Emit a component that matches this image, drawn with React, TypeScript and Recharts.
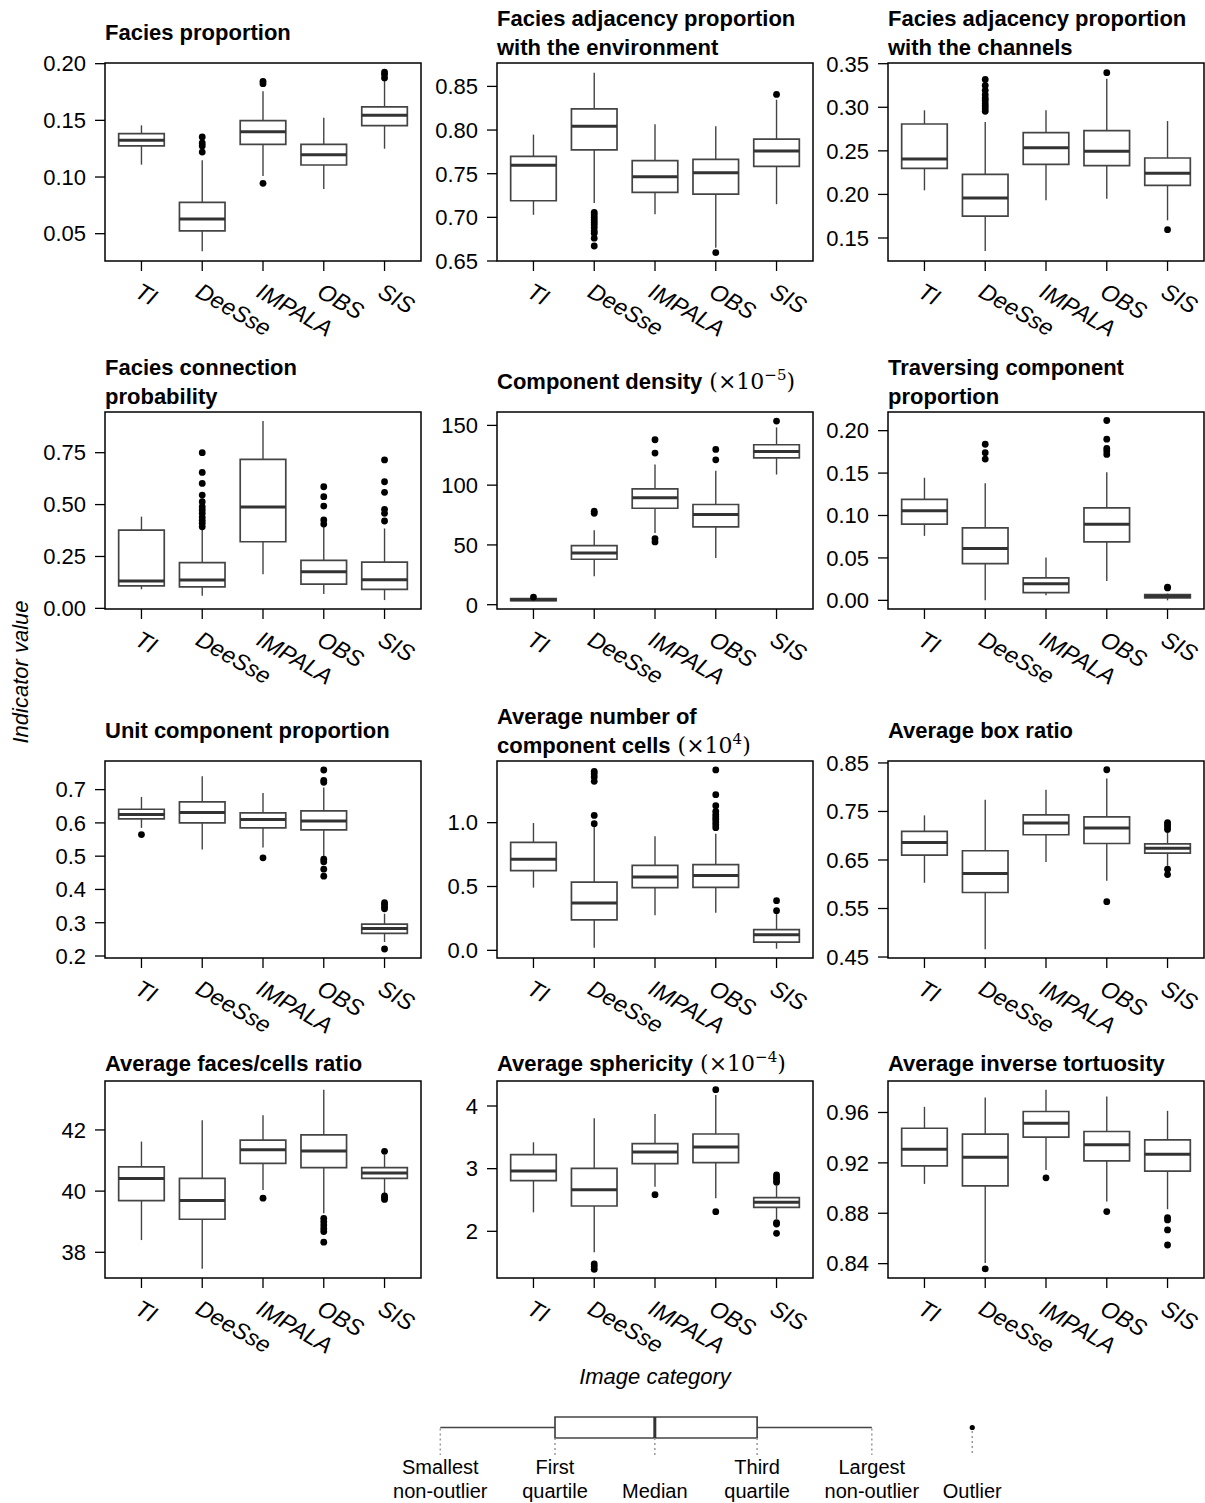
import React from "react";
import {
  ScatterChart,
  Scatter,
  XAxis,
  YAxis,
  ReferenceArea,
  ReferenceLine,
} from "recharts";

const SANS = "'Liberation Sans', Arial, sans-serif";
const SERIF = "'DejaVu Serif', serif";

const categories = ["TI", "DeeSse", "IMPALA", "OBS", "SIS"];

// every row: [low whisker, Q1, median, Q3, high whisker]
const faciesProportion = [
  [0.1109, 0.1274, 0.1324, 0.1382, 0.1456],
  [0.0344, 0.0524, 0.0629, 0.0776, 0.1147],
  [0.1009, 0.1288, 0.14, 0.1497, 0.1756],
  [0.0894, 0.1106, 0.1197, 0.1288, 0.1524],
  [0.125, 0.1453, 0.1544, 0.1618, 0.1853],
];
const faciesProportionOut = [
  [],
  [0.1353, 0.13, 0.1274, 0.122],
  [0.1844, 0.1824, 0.0944],
  [],
  [0.1926, 0.1906, 0.1874],
];

const adjEnvironment = [
  [0.7029, 0.719, 0.7596, 0.7699, 0.7948],
  [0.7163, 0.7772, 0.8044, 0.8243, 0.8657],
  [0.7036, 0.7285, 0.7466, 0.765, 0.8067],
  [0.6653, 0.7266, 0.7511, 0.7665, 0.8044],
  [0.7151, 0.7584, 0.7761, 0.7895, 0.8347],
];
const adjEnvironmentOut = [
  [],
  [0.7056, 0.7029, 0.6998, 0.6971, 0.6941, 0.6914, 0.6883, 0.6845, 0.6818, 0.6761, 0.6672],
  [],
  [0.6596],
  [0.8408],
];

const adjChannels = [
  [0.2047, 0.2299, 0.2406, 0.2808, 0.2965],
  [0.1351, 0.1752, 0.1959, 0.223, 0.2831],
  [0.1932, 0.2345, 0.2536, 0.2708, 0.2965],
  [0.1951, 0.233, 0.2494, 0.2731, 0.3328],
  [0.1703, 0.2104, 0.2242, 0.2418, 0.2842],
];
const adjChannelsOut = [
  [],
  [0.332, 0.3251, 0.3194, 0.3144, 0.3106, 0.3079, 0.3041, 0.3014, 0.2984, 0.2953],
  [],
  [0.3397],
  [0.1596],
];

const connectionProb = [
  [0.092, 0.108, 0.132, 0.377, 0.442],
  [0.061, 0.104, 0.137, 0.22, 0.385],
  [0.164, 0.321, 0.488, 0.718, 0.903],
  [0.069, 0.117, 0.177, 0.231, 0.4],
  [0.04, 0.092, 0.138, 0.223, 0.385],
];
const connectionProbOut = [
  [],
  [0.75, 0.655, 0.602, 0.546, 0.514, 0.49, 0.474, 0.458, 0.44, 0.425, 0.41, 0.393],
  [],
  [0.586, 0.538, 0.493, 0.426, 0.406],
  [0.715, 0.61, 0.559, 0.477, 0.458, 0.421],
];

const componentDensity = [
  [3.0, 3.4, 4.2, 5.0, 5.8],
  [23.7, 38, 43.3, 49.4, 62.3],
  [60, 80.7, 89.4, 96.9, 117.3],
  [39.1, 65.1, 75.4, 83.8, 112],
  [108.9, 122.9, 128.2, 133.8, 148.3],
];
const componentDensityOut = [
  [6.4],
  [78.2, 76.5],
  [138, 126.8, 55.3, 52.5],
  [129.9, 121.2],
  [153.6],
];

const traversing = [
  [0.076, 0.0898, 0.1055, 0.119, 0.1445],
  [0.0, 0.0433, 0.061, 0.0854, 0.138],
  [0.006, 0.009, 0.0197, 0.0264, 0.0504],
  [0.0228, 0.069, 0.0898, 0.109, 0.151],
  [0.0, 0.003, 0.0047, 0.0067, 0.008],
];
const traversingOut = [
  [],
  [0.184, 0.174, 0.1665],
  [],
  [0.212, 0.19, 0.179, 0.176, 0.172],
  [0.0146, 0.0157],
];

const unitComponent = [
  [0.585, 0.612, 0.625, 0.641, 0.678],
  [0.52, 0.6, 0.631, 0.663, 0.74],
  [0.526, 0.585, 0.61, 0.63, 0.69],
  [0.498, 0.579, 0.606, 0.636, 0.706],
  [0.242, 0.268, 0.283, 0.296, 0.327],
];
const unitComponentOut = [
  [0.565],
  [],
  [0.495],
  [0.759, 0.728, 0.722, 0.491, 0.483, 0.461, 0.44],
  [0.36, 0.355, 0.347, 0.342, 0.221],
];

const componentCells = [
  [0.491, 0.624, 0.713, 0.846, 0.997],
  [0.021, 0.238, 0.371, 0.535, 0.966],
  [0.274, 0.491, 0.574, 0.666, 0.893],
  [0.295, 0.493, 0.587, 0.671, 0.914],
  [0.013, 0.065, 0.123, 0.162, 0.298],
];
const componentCellsOut = [
  [],
  [1.402, 1.384, 1.358, 1.324, 1.057, 0.992],
  [],
  [1.413, 1.219, 1.133, 1.089, 1.063, 1.044, 1.026, 1.005, 0.984, 0.961],
  [0.389, 0.311],
];

const boxRatio = [
  [0.603, 0.66, 0.686, 0.709, 0.742],
  [0.466, 0.583, 0.622, 0.669, 0.774],
  [0.646, 0.702, 0.726, 0.743, 0.795],
  [0.607, 0.684, 0.716, 0.739, 0.818],
  [0.638, 0.664, 0.674, 0.683, 0.708],
];
const boxRatioOut = [
  [],
  [],
  [],
  [0.836, 0.564],
  [0.727, 0.723, 0.718, 0.713, 0.631, 0.62],
];

const facesCells = [
  [38.4, 39.69, 40.41, 40.79, 41.62],
  [37.46, 39.08, 39.69, 40.42, 42.32],
  [40.04, 40.91, 41.35, 41.67, 42.48],
  [39.28, 40.77, 41.31, 41.84, 43.31],
  [39.93, 40.42, 40.59, 40.77, 41.18],
];
const facesCellsOut = [
  [],
  [],
  [39.77],
  [39.11, 39.0, 38.89, 38.78, 38.68, 38.33],
  [41.3, 39.84, 39.79, 39.73],
];

const sphericity = [
  [2.303, 2.809, 2.963, 3.223, 3.42],
  [1.665, 2.404, 2.665, 3.005, 3.803],
  [2.713, 3.08, 3.266, 3.399, 3.872],
  [2.527, 3.096, 3.346, 3.553, 4.176],
  [2.197, 2.383, 2.463, 2.537, 2.723],
];
const sphericityOut = [
  [],
  [1.479, 1.436, 1.394],
  [2.585],
  [4.261, 2.314],
  [2.899, 2.862, 2.819, 2.782, 2.138, 2.117, 1.968],
];

const inverseTortuosity = [
  [0.9033, 0.9176, 0.9309, 0.9475, 0.9645],
  [0.8405, 0.9017, 0.9245, 0.9428, 0.9719],
  [0.9144, 0.9404, 0.9515, 0.9608, 0.978],
  [0.8893, 0.9216, 0.9343, 0.9449, 0.9727],
  [0.8832, 0.9134, 0.9269, 0.9383, 0.9613],
];
const inverseTortuosityOut = [
  [],
  [0.8358],
  [0.9081],
  [0.8813],
  [0.8766, 0.8747, 0.8668, 0.8548],
];

// legend key: smallest, Q1, median, Q3, largest, then the outlier
const legendStats = [0.65, 2.5, 4.11, 5.76, 7.61];
const legendOutlier = [9.23];
const legendLabels = [
  ["Smallest", "non-outlier"],
  ["First", "quartile"],
  ["Median"],
  ["Third", "quartile"],
  ["Largest", "non-outlier"],
  ["Outlier"],
];

const panels = [
  { lines: ["Facies proportion"], stats: faciesProportion, out: faciesProportionOut, domain: [0.0259, 0.2006], ticks: [0.05, 0.1, 0.15, 0.2], dec: 2 },
  { lines: ["Facies adjacency proportion", "with the environment"], stats: adjEnvironment, out: adjEnvironmentOut, domain: [0.65, 0.8768], ticks: [0.65, 0.7, 0.75, 0.8, 0.85], dec: 2 },
  { lines: ["Facies adjacency proportion", "with the channels"], stats: adjChannels, out: adjChannelsOut, domain: [0.1236, 0.3508], ticks: [0.15, 0.2, 0.25, 0.3, 0.35], dec: 2 },
  { lines: ["Facies connection", "probability"], stats: connectionProb, out: connectionProbOut, domain: [-0.003, 0.946], ticks: [0, 0.25, 0.5, 0.75], dec: 2 },
  { lines: ["Component density"], exp: "\u22125", stats: componentDensity, out: componentDensityOut, domain: [-3.6, 161.2], ticks: [0, 50, 100, 150], dec: 0 },
  { lines: ["Traversing component", "proportion"], stats: traversing, out: traversingOut, domain: [-0.0102, 0.222], ticks: [0, 0.05, 0.1, 0.15, 0.2], dec: 2 },
  { lines: ["Unit component proportion"], stats: unitComponent, out: unitComponentOut, domain: [0.194, 0.786], ticks: [0.2, 0.3, 0.4, 0.5, 0.6, 0.7], dec: 1 },
  { lines: ["Average number of", "component cells"], exp: "4", stats: componentCells, out: componentCellsOut, domain: [-0.06, 1.483], ticks: [0, 0.5, 1.0], dec: 1 },
  { lines: ["Average box ratio"], stats: boxRatio, out: boxRatioOut, domain: [0.448, 0.854], ticks: [0.45, 0.55, 0.65, 0.75, 0.85], dec: 2 },
  { lines: ["Average faces/cells ratio"], stats: facesCells, out: facesCellsOut, domain: [37.16, 43.6], ticks: [38, 40, 42], dec: 0 },
  { lines: ["Average sphericity"], exp: "\u22124", stats: sphericity, out: sphericityOut, domain: [1.255, 4.399], ticks: [2, 3, 4], dec: 0 },
  { lines: ["Average inverse tortuosity"], stats: inverseTortuosity, out: inverseTortuosityOut, domain: [0.8286, 0.985], ticks: [0.84, 0.88, 0.92, 0.96], dec: 2 },
];

const colLeft = [105, 497, 888];
const rowTop = [63, 412, 761, 1081];
const rowH = [198, 197, 197, 197];
const PLOT_W = 316;
const TOP_PAD = 20;
const HALF = 0.375;
const BOX = "#444";

function CatTick({ x, baseY, value }: any) {
  const ax = x - 8;
  return (
    <text
      x={ax}
      y={baseY}
      transform={`rotate(30 ${ax} ${baseY})`}
      fill="#000"
      fontSize={23}
      fontStyle="italic"
      fontFamily={SANS}
    >
      {categories[value - 1]}
    </text>
  );
}

const outlierDot = (props: any) => (
  <circle cx={props.cx} cy={props.cy} r={3.4} fill="#000" />
);

function Panel({ p, i }: any) {
  const col = i % 3;
  const row = Math.floor(i / 3);
  const h = rowH[row];
  const points = p.out.flatMap((vals: number[], k: number) =>
    vals.map((v) => ({ x: k + 1, y: v }))
  );
  const baseY = TOP_PAD + h + 35;

  return (
    <div style={{ position: "absolute", left: colLeft[col] - 100, top: rowTop[row] - TOP_PAD }}>
      <ScatterChart
        width={100 + PLOT_W + 2}
        height={TOP_PAD + h + 80}
        margin={{ top: TOP_PAD, right: 2, bottom: 0, left: 0 }}
      >
        <XAxis
          type="number"
          dataKey="x"
          domain={[0.4, 5.6]}
          ticks={[1, 2, 3, 4, 5]}
          interval={0}
          allowDataOverflow
          axisLine={false}
          tickSize={10}
          tickLine={{ stroke: "#000", strokeWidth: 1.3 }}
          height={80}
          tick={(t: any) => (
            <CatTick key={t.payload.value} x={t.x} value={t.payload.value} baseY={baseY} />
          )}
        />
        <YAxis
          type="number"
          dataKey="y"
          domain={p.domain}
          ticks={p.ticks}
          interval={0}
          allowDataOverflow
          axisLine={false}
          width={100}
          tickSize={10}
          tickMargin={9}
          tickLine={{ stroke: "#000", strokeWidth: 1.3 }}
          tick={{ fill: "#000", fontSize: 22, fontFamily: SANS }}
          tickFormatter={(v: number) => v.toFixed(p.dec)}
        />
        <ReferenceArea
          x1={0.4}
          x2={5.6}
          y1={p.domain[0]}
          y2={p.domain[1]}
          fill="none"
          stroke="#000"
          strokeWidth={1.5}
        />
        {p.stats.flatMap(([lo, q1, med, q3, hi]: number[], k: number) => {
          const c = k + 1;
          return [
            <ReferenceLine key={`wl${k}`} segment={[{ x: c, y: lo }, { x: c, y: q1 }]} stroke={BOX} strokeWidth={1.4} />,
            <ReferenceLine key={`wh${k}`} segment={[{ x: c, y: q3 }, { x: c, y: hi }]} stroke={BOX} strokeWidth={1.4} />,
            <ReferenceArea key={`b${k}`} x1={c - HALF} x2={c + HALF} y1={q1} y2={q3} fill="none" stroke={BOX} strokeWidth={1.7} />,
            <ReferenceLine key={`m${k}`} segment={[{ x: c - HALF, y: med }, { x: c + HALF, y: med }]} stroke="#333" strokeWidth={3} />,
          ];
        })}
        <Scatter data={points} isAnimationActive={false} shape={outlierDot} />
      </ScatterChart>
    </div>
  );
}

const LEG_LEFT = 400;
const LEG_TOP = 1410;
const LEG_W = 620;
const LEG_H = 50;

function LegendKey() {
  const [lo, q1, med, q3, hi] = legendStats;
  const dotted = { stroke: "#999", strokeWidth: 1.5, strokeDasharray: "2 3" };
  const outPts = legendOutlier.map((v) => ({ x: v, y: 0.65 }));
  return (
    <div style={{ position: "absolute", left: LEG_LEFT, top: LEG_TOP }}>
      <ScatterChart width={LEG_W} height={LEG_H} margin={{ top: 0, right: 0, bottom: 0, left: 0 }}>
        <XAxis type="number" dataKey="x" domain={[0, 10]} hide allowDataOverflow />
        <YAxis type="number" dataKey="y" domain={[0, 1]} hide allowDataOverflow />
        <ReferenceLine segment={[{ x: lo, y: 0.63 }, { x: lo, y: 0.1 }]} {...dotted} />
        <ReferenceLine segment={[{ x: q1, y: 0.44 }, { x: q1, y: 0.1 }]} {...dotted} />
        <ReferenceLine segment={[{ x: med, y: 0.44 }, { x: med, y: 0.1 }]} {...dotted} />
        <ReferenceLine segment={[{ x: q3, y: 0.44 }, { x: q3, y: 0.1 }]} {...dotted} />
        <ReferenceLine segment={[{ x: hi, y: 0.63 }, { x: hi, y: 0.1 }]} {...dotted} />
        {legendOutlier.map((v) => (
          <ReferenceLine key={v} segment={[{ x: v, y: 0.58 }, { x: v, y: 0.1 }]} {...dotted} />
        ))}
        <ReferenceLine segment={[{ x: lo, y: 0.65 }, { x: q1, y: 0.65 }]} stroke={BOX} strokeWidth={1.4} />
        <ReferenceLine segment={[{ x: q3, y: 0.65 }, { x: hi, y: 0.65 }]} stroke={BOX} strokeWidth={1.4} />
        <ReferenceArea x1={q1} x2={q3} y1={0.44} y2={0.86} fill="none" stroke={BOX} strokeWidth={1.7} />
        <ReferenceLine segment={[{ x: med, y: 0.44 }, { x: med, y: 0.86 }]} stroke="#333" strokeWidth={3} />
        <Scatter
          data={outPts}
          isAnimationActive={false}
          shape={(pr: any) => <circle cx={pr.cx} cy={pr.cy} r={2.6} fill="#000" />}
        />
      </ScatterChart>
    </div>
  );
}

function Title({ p, i }: any) {
  const col = i % 3;
  const row = Math.floor(i / 3);
  const x = colLeft[col];
  const top = rowTop[row];
  const baselines =
    p.lines.length === 2 ? [top - 37, top - 8] : [row === 3 ? top - 10 : top - 23];
  return (
    <g>
      {p.lines.map((ln: string, k: number) => (
        <text key={k} x={x} y={baselines[k]} fontFamily={SANS} fontWeight="bold" fontSize={22} fill="#000">
          {ln}
          {p.exp && k === p.lines.length - 1 ? (
            <>
              <tspan fontFamily={SERIF} fontWeight="normal"> (×10</tspan>
              <tspan fontFamily={SERIF} fontWeight="normal" fontSize={15} dy={-9}>
                {p.exp}
              </tspan>
              <tspan fontFamily={SERIF} fontWeight="normal" dy={9}>)</tspan>
            </>
          ) : null}
        </text>
      ))}
    </g>
  );
}

export default function App() {
  return (
    <div
      style={{
        position: "absolute",
        left: 0,
        top: 0,
        width: 1205,
        height: 1503,
        overflow: "hidden",
        background: "#fff",
      }}
    >
      {panels.map((p, i) => (
        <Panel key={i} p={p} i={i} />
      ))}
      <LegendKey />
      <svg
        width={1205}
        height={1503}
        style={{ position: "absolute", left: 0, top: 0, pointerEvents: "none" }}
      >
        {panels.map((p, i) => (
          <Title key={i} p={p} i={i} />
        ))}
        <text x={655} y={1384} textAnchor="middle" fontFamily={SANS} fontStyle="italic" fontSize={22} fill="#000">
          Image category
        </text>
        <text
          x={28}
          y={672}
          textAnchor="middle"
          transform="rotate(-90 28 672)"
          fontFamily={SANS}
          fontStyle="italic"
          fontSize={22}
          fill="#000"
        >
          Indicator value
        </text>
        {legendLabels.map((lab, k) => {
          const v = k < 5 ? legendStats[k] : legendOutlier[0];
          const lx = LEG_LEFT + (v * LEG_W) / 10;
          const ys = lab.length === 2 ? [1474, 1498] : [1498];
          return lab.map((s, j) => (
            <text key={`${k}-${j}`} x={lx} y={ys[j]} textAnchor="middle" fontFamily={SANS} fontSize={20} fill="#000">
              {s}
            </text>
          ));
        })}
      </svg>
    </div>
  );
}
